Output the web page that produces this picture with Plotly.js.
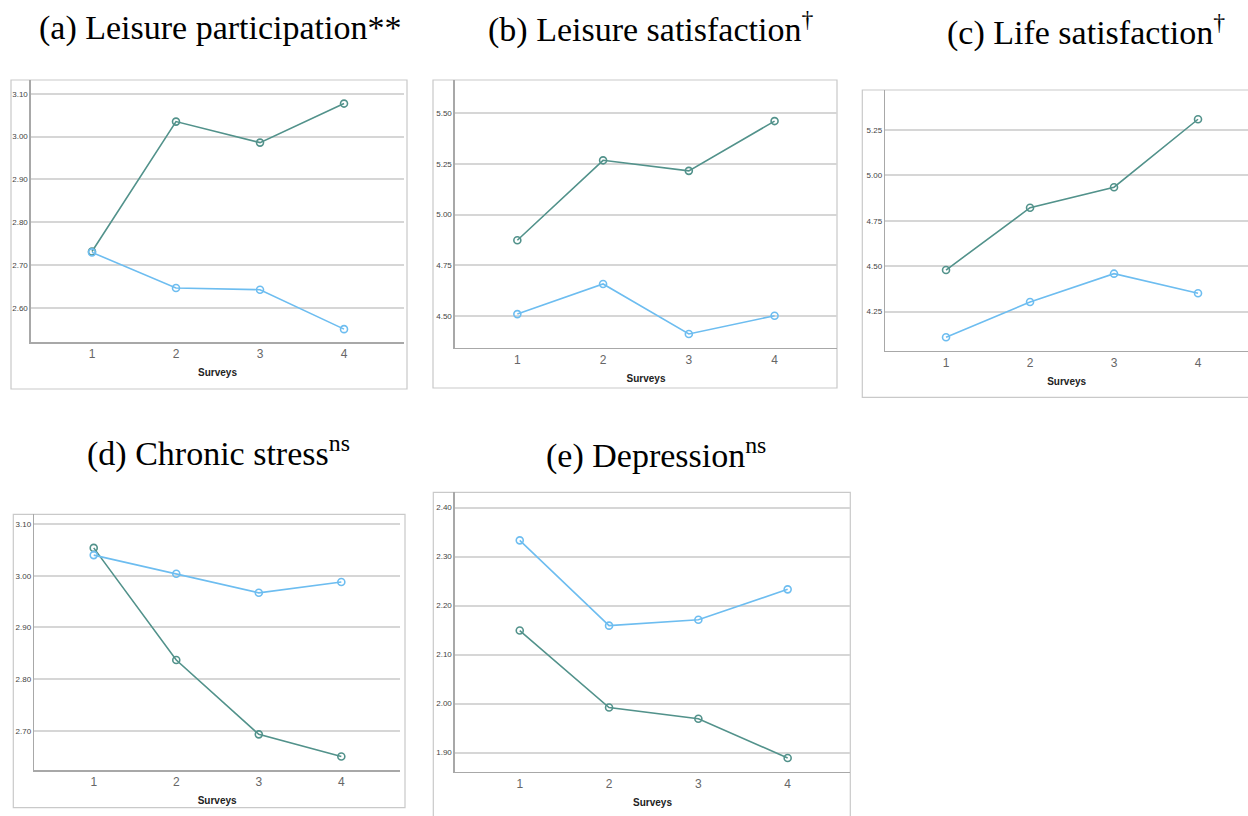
<!DOCTYPE html>
<html>
<head>
<meta charset="utf-8">
<script src="https://cdn.plot.ly/plotly-3.0.1.min.js"></script>
<style>html,body{margin:0;padding:0;background:#fff;}#chart{width:1248px;height:816px;}</style>
</head>
<body>
<div id="chart"></div>
<script>
// ---- data ----
const surveys = [1, 2, 3, 4];
const panelTitles = [
  "(a) Leisure participation**",
  "(b) Leisure satisfaction<sup>†</sup>",
  "(c) Life satisfaction<sup>†</sup>",
  "(d) Chronic stress<sup>ns</sup>",
  "(e) Depression<sup>ns</sup>"
];
const xTitle = "Surveys";
const groupA = [ // teal series
  [2.732, 3.035, 2.986, 3.077],
  [4.873, 5.268, 5.216, 5.462],
  [4.479, 4.822, 4.935, 5.309],
  [3.054, 2.837, 2.693, 2.650],
  [2.149, 1.992, 1.969, 1.889]
];
const groupB = [ // light-blue series
  [2.730, 2.647, 2.643, 2.551],
  [4.508, 4.657, 4.410, 4.500],
  [4.109, 4.303, 4.459, 4.351],
  [3.040, 3.004, 2.967, 2.988],
  [2.333, 2.159, 2.171, 2.233]
];
const yTickVals = [
  [2.60, 2.70, 2.80, 2.90, 3.00, 3.10],
  [4.50, 4.75, 5.00, 5.25, 5.50],
  [4.25, 4.50, 4.75, 5.00, 5.25],
  [2.70, 2.80, 2.90, 3.00, 3.10],
  [1.90, 2.00, 2.10, 2.20, 2.30, 2.40]
];

// ---- layout geometry (pixels) ----
const W = 1248, H = 816;
const px = v => v / W, py = v => 1 - v / H;
const panels = [
  {x0: 31,    x1: 404,  y0: 80,    y1: 342,   yr: [2.521, 3.132], xr: [0.274, 4.714], frame: [11, 80, 407, 389],   t: [220, 28]},
  {x0: 455,   x1: 837,  y0: 80,    y1: 347.7, yr: [4.342, 5.665], xr: [0.273, 4.728], frame: [433, 80, 837, 388],  t: [650, 28]},
  {x0: 885.3, x1: 1248, y0: 90,    y1: 350.7, yr: [4.035, 5.470], xr: [0.277, 4.595], frame: [862.3, 90, 1260, 397.3], t: [1086, 31]},
  {x0: 34.3,  x1: 400,  y0: 514.3, y1: 770,   yr: [2.624, 3.119], xr: [0.280, 4.711], frame: [13.3, 514.3, 405, 807.7], t: [218, 451]},
  {x0: 455,   x1: 850,  y0: 492.3, y1: 771.7, yr: [1.861, 2.431], xr: [0.275, 4.698], frame: [433.3, 492.3, 850.3, 830], t: [656, 453]}
];

const colA = '#52928b', colB = '#6dbdf0';
const traces = [];
const layout = {
  width: W, height: H,
  margin: {l: 0, r: 0, t: 0, b: 0},
  paper_bgcolor: '#fff', plot_bgcolor: '#fff',
  showlegend: false,
  shapes: [], annotations: []
};

panels.forEach((p, i) => {
  const n = i === 0 ? '' : String(i + 1);
  const xa = 'x' + n, ya = 'y' + n;
  [[groupA[i], colA], [groupB[i], colB]].forEach(([vals, c]) => {
    traces.push({
      type: 'scatter', mode: 'lines+markers', x: surveys, y: vals,
      xaxis: xa, yaxis: ya, cliponaxis: false,
      line: {color: c, width: 1.6},
      marker: {symbol: 'circle-open', size: 7, color: c, line: {width: 1.6, color: c}},
      hoverinfo: 'x+y'
    });
  });
  layout['xaxis' + n] = {
    domain: [px(p.x0), px(p.x1)], anchor: ya, range: p.xr,
    tickvals: surveys, ticks: '', showgrid: false, zeroline: false,
    showline: true, linecolor: '#a8a8a8', linewidth: 1.6,
    tickfont: {family: 'Liberation Sans, Arial', size: 12, color: '#666'},
    ticklabelstandoff: 0,
    title: {text: '<b>' + xTitle + '</b>', font: {family: 'Liberation Sans, Arial', size: 10, color: '#222'}, standoff: 9},
    automargin: false, fixedrange: true
  };
  layout['yaxis' + n] = {
    domain: [py(p.y1), py(p.y0)], anchor: xa, range: p.yr,
    tickvals: yTickVals[i], tickformat: '.2f', ticks: '',
    showgrid: true, gridcolor: '#d6d6d6', gridwidth: 2, zeroline: false,
    showline: true, linecolor: '#a8a8a8', linewidth: 1.6,
    tickfont: {family: 'Liberation Sans, Arial', size: 8, color: '#444'},
    automargin: false, fixedrange: true
  };
  layout.shapes.push({
    type: 'rect', xref: 'paper', yref: 'paper', layer: 'below',
    x0: px(p.frame[0]), x1: px(p.frame[2]), y0: py(p.frame[3]), y1: py(p.frame[1]),
    line: {color: '#c9c9c9', width: 1.2}, fillcolor: 'rgba(0,0,0,0)'
  });
  layout.annotations.push({
    xref: 'paper', yref: 'paper', x: px(p.t[0]), y: py(p.t[1]),
    xanchor: 'center', yanchor: 'middle', showarrow: false,
    text: panelTitles[i],
    font: {family: 'Liberation Serif, Times New Roman, serif', size: 34, color: '#000'}
  });
});

Plotly.newPlot('chart', traces, layout, {displayModeBar: false, staticPlot: true});
</script>
</body>
</html>
